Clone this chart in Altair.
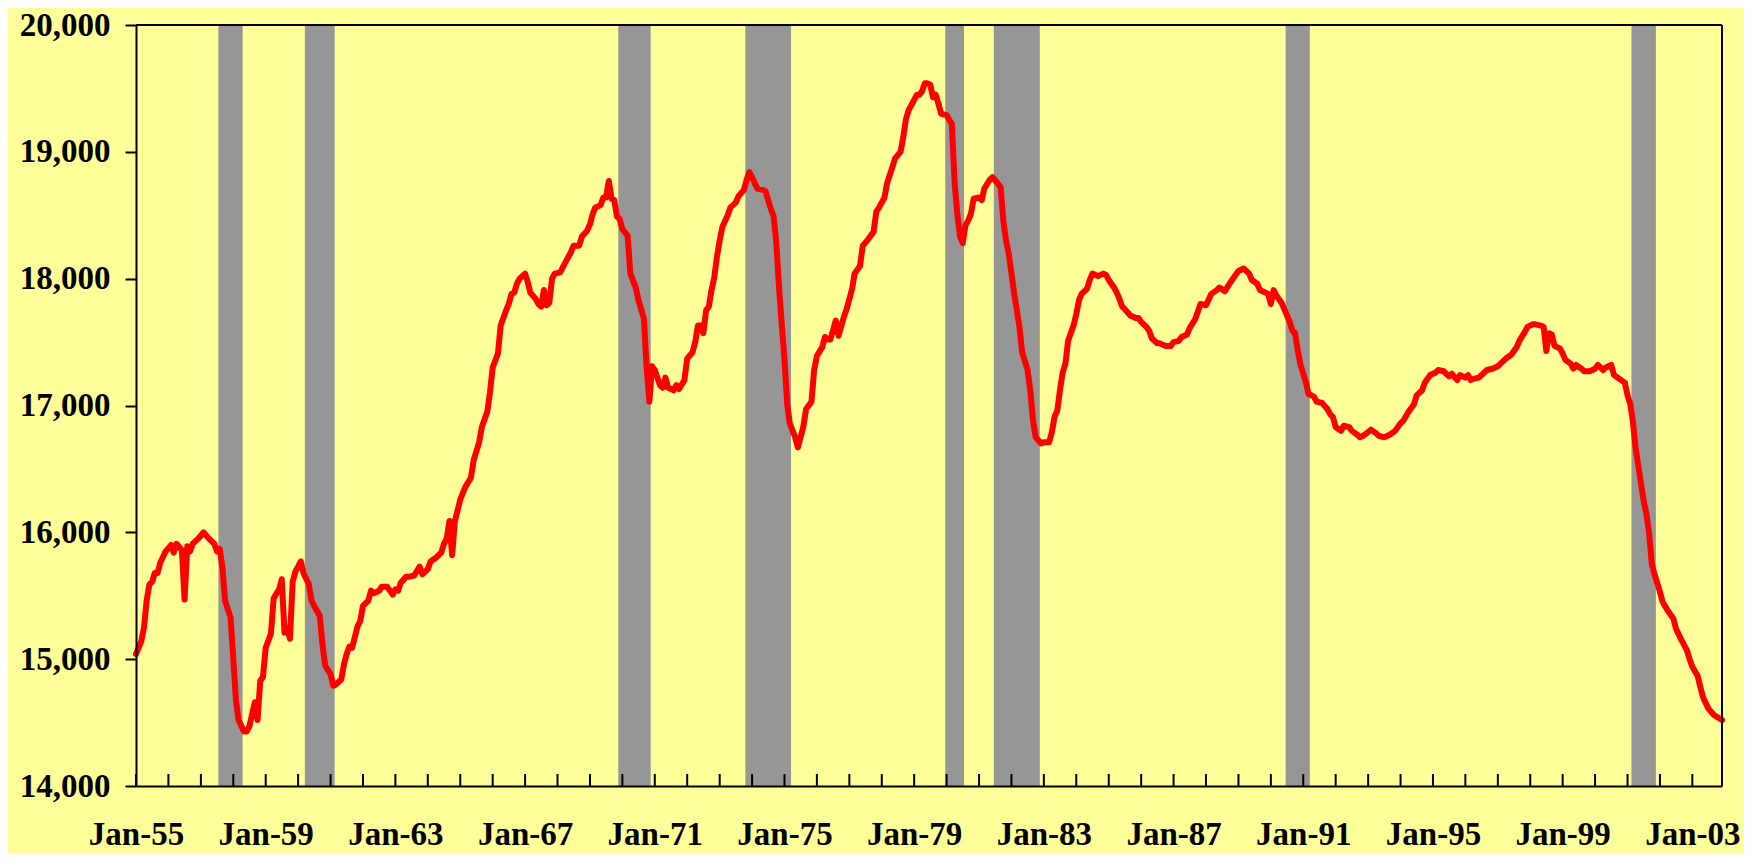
import altair as alt
import pandas as pd

# ---- data (monthly, thousands of jobs) ----
months_since_jan1955 = [
    0, 2, 3, 4, 5, 6, 7, 8, 9, 11, 13, 14, 15, 17, 18, 19, 20, 21, 23, 25, 27, 29, 30, 31, 32, 33, 35, 37, 38, 40,
    41, 42, 44, 45, 46, 47, 48, 50, 51, 53, 54, 55, 56, 57, 58, 59, 61, 62, 64, 65, 67, 68, 69, 70, 72, 73, 74, 76,
    77, 78, 79, 80, 82, 83, 84, 86, 87, 88, 90, 91, 93, 95, 96, 97, 98, 100, 101,
    103, 105, 106, 108, 109, 111, 113, 114, 115, 116, 117, 118, 119, 120, 122, 124, 125, 127, 128, 130, 131, 132,
    134, 135, 137, 138, 139, 140, 141, 142, 144, 145, 146, 148, 149, 150, 151, 152, 153, 154, 155, 157, 158, 159,
    161, 162, 164, 165, 167, 168, 169, 170, 172, 173, 174, 175, 176, 177, 178, 179, 180, 182, 183, 185, 186, 187,
    188, 189, 190, 191, 192, 194, 195, 196, 197,
    199, 200, 201, 203, 204, 206, 207, 208, 209, 210, 211, 212, 213, 214, 215, 216, 217, 219, 220, 222, 223, 225,
    226, 227, 228, 230, 232, 233, 234, 235, 236, 237, 238, 239, 240, 241, 242, 244, 245, 247, 248, 250, 251, 252,
    254, 255, 256, 257, 259, 260, 262, 263, 264, 265, 266, 268, 269, 271, 273, 274, 275, 277, 278, 280, 281, 283,
    284, 285, 286, 288, 289,
    290, 291, 292, 293, 294, 295, 296, 297, 298, 300, 301, 302, 303, 304, 305, 306, 307, 308, 309, 310, 312, 313,
    314, 316, 317, 319, 320, 321, 322, 323, 324, 325, 327, 328, 330, 331, 332, 333, 335, 336, 338, 339, 340, 341,
    342, 343, 344, 345, 347, 348, 349, 350, 352, 353, 354, 356, 358, 359, 360, 362, 363, 364, 365, 366, 368, 370,
    371, 372, 374, 375, 376, 378, 379, 381, 383, 384, 386, 387, 388, 389, 390, 392, 394, 396, 398, 400, 401, 403,
    405, 407, 408, 410, 412, 413, 415, 416, 418, 419, 420, 421, 422, 424, 425, 427, 428, 429, 430, 431, 433, 434,
    436, 437, 439, 441, 442, 443, 444, 446, 447, 449, 450, 452, 453, 454, 456, 457, 459, 460, 462, 464, 466, 468,
    469, 471, 473, 474, 476, 477, 479, 481, 482,
    484, 486, 487, 489, 490, 492, 493, 494, 495, 497, 499, 500, 502, 504, 505, 507, 509, 511, 512, 514, 515, 517,
    518, 520, 521, 522, 523, 524, 525, 527, 528, 529, 531, 532, 533, 535, 536, 538, 540, 541, 543, 544, 546, 547,
    549, 551, 552, 553, 554, 555, 556, 558, 559, 560, 561, 562, 564, 565, 567, 569, 570, 572, 574, 575, 576, 578,
    579, 580, 582, 584, 587,
]

employment = [
    15040, 15140, 15250, 15460, 15590, 15610, 15680, 15680, 15760, 15850, 15900, 15840, 15910, 15860, 15470, 15890,
    15850, 15910, 15950, 16000, 15950, 15910, 15850, 15870, 15720, 15460, 15330, 14670, 14520, 14430,
    14430, 14470, 14660, 14520, 14830, 14860, 15090, 15200, 15480, 15550, 15630, 15210, 15250, 15160, 15610, 15690,
    15770, 15680, 15590, 15460, 15380, 15340, 15120, 14950, 14880, 14790, 14800, 14840,
    14960, 15040, 15100, 15090, 15260, 15300, 15420, 15460, 15540, 15520, 15540, 15570, 15570, 15510, 15550, 15540,
    15600, 15650, 15650,
    15660, 15730, 15670, 15710, 15770, 15800, 15840, 15910, 15950, 16090, 15820, 16090, 16170, 16260, 16360, 16430,
    16570, 16710, 16830, 16950, 17100, 17300,
    17410, 17630, 17750, 17800, 17880, 17890, 17960, 18000, 18040, 17970, 17890, 17840, 17800, 17780, 17910, 17790,
    17810, 18000, 18040, 18050, 18090, 18130,
    18210, 18260, 18260, 18330, 18380, 18430, 18510, 18560, 18580, 18640, 18640, 18770, 18630, 18620, 18490, 18470,
    18390, 18340, 18040, 17930, 17830, 17760,
    17680, 17300, 17030, 17310, 17280, 17160, 17140, 17220, 17140,
    17120, 17160, 17130, 17200, 17370, 17420, 17500, 17630, 17630, 17570, 17750, 17780, 17910, 18010, 18170, 18300,
    18410, 18500, 18560, 18600, 18650, 18700,
    18780, 18840, 18800, 18710, 18700, 18690, 18620, 18550, 18490, 18280, 17930, 17640, 17360, 17010, 16860, 16750,
    16670, 16830, 16970, 17030, 17280, 17390,
    17460, 17540, 17520, 17520, 17670, 17550, 17700, 17760, 17840, 17920, 18040, 18100, 18260, 18310, 18370, 18530,
    18560, 18640, 18750, 18880, 18950, 19000,
    19120, 19260, 19330, 19410, 19450,
    19450, 19480, 19540, 19540, 19530, 19430, 19450, 19380, 19300, 19290, 19250, 19220, 18750, 18510, 18330, 18280,
    18420, 18460, 18510, 18630, 18640, 18620,
    18710, 18780, 18800, 18750, 18720, 18460, 18300, 18200, 18040, 17880, 17620, 17420, 17280, 17120, 16880, 16750,
    16700, 16710, 16710, 16790, 16910, 16960,
    17120, 17260, 17330, 17510, 17630, 17720, 17830, 17880, 17920, 17990, 18040, 18020, 18040, 18030, 17990, 17930,
    17890, 17840, 17780, 17760, 17710, 17690,
    17690, 17660, 17620, 17590, 17530, 17490, 17490, 17470, 17470, 17500, 17510, 17540, 17550, 17560, 17610, 17680,
    17800, 17790, 17880, 17910, 17930, 17900,
    17970, 18030, 18060, 18080, 18040, 17990, 17960, 17910, 17890, 17880, 17800, 17910, 17870, 17810, 17760, 17660,
    17590, 17570, 17430, 17320, 17180, 17090,
    17070, 17030, 17020, 16970, 16930, 16910, 16830, 16800, 16840, 16830, 16800, 16770, 16750, 16760, 16790, 16810,
    16780, 16760, 16750, 16770, 16800, 16860,
    16880, 16950, 17010, 17080, 17120, 17180, 17240, 17260, 17280,
    17270, 17230, 17250, 17200, 17240, 17220, 17240, 17200, 17210, 17220, 17260, 17280, 17290, 17310, 17330, 17370,
    17400, 17460, 17510, 17580, 17620, 17640,
    17640, 17630, 17620, 17430, 17570, 17560, 17470, 17450, 17410, 17360, 17330, 17290, 17320, 17290, 17270, 17270,
    17290, 17320, 17280, 17300, 17320, 17240,
    17210, 17180, 17080, 17010, 16880, 16670, 16530, 16250, 16150, 15990, 15750, 15670, 15530, 15450, 15380, 15320,
    15240, 15150, 15070, 15000, 14940, 14870,
    14780, 14700, 14610, 14560, 14520,
]

# NBER recessions (peak month, trough month)
recession_peaks = ["1957-08", "1960-04", "1969-12", "1973-11", "1980-01", "1981-07", "1990-07", "2001-03"]
recession_troughs = ["1958-04", "1961-02", "1970-11", "1975-03", "1980-07", "1982-11", "1991-03", "2001-11"]

tick_years = list(range(1955, 2004))
label_years = [1955, 1959, 1963, 1967, 1971, 1975, 1979, 1983, 1987, 1991, 1995, 1999, 2003]
y_ticks = [14000, 15000, 16000, 17000, 18000, 19000, 20000]

# ---- tables ----
base = pd.Timestamp("1955-01-01")
line_df = pd.DataFrame({
    "date": [(base + pd.DateOffset(months=int(m))).strftime("%Y-%m-%d") for m in months_since_jan1955],
    "jobs": employment,
})
half = pd.Timedelta(days=15)
rec_df = pd.DataFrame({
    "start": [(pd.Timestamp(p + "-01") - half).strftime("%Y-%m-%d") for p in recession_peaks],
    "end": [(pd.Timestamp(t + "-01") + half).strftime("%Y-%m-%d") for t in recession_troughs],
})
tick_df = pd.DataFrame({"date": [f"{y}-01-01" for y in tick_years]})

W, H = 1586, 761
FONT = "Liberation Serif"

x_scale = alt.Scale(
    type="utc",
    domain=[alt.DateTime(year=1955, month=1, date=1, utc=True),
            alt.DateTime(year=2003, month=12, date=1, utc=True)],
)
x_axis = alt.Axis(
    values=[alt.DateTime(year=y, month=1, date=1, utc=True) for y in label_years],
    format="%b-%y", title=None, grid=False, ticks=False,
    domain=True, domainColor="black", domainWidth=2,
    labelFont=FONT, labelFontWeight="bold", labelFontSize=33, labelColor="black",
    labelPadding=32, labelFlush=False, labelOverlap=False, zindex=1,
)
y_scale = alt.Scale(domain=[14000, 20000], nice=False, zero=False)
y_axis = alt.Axis(
    values=y_ticks, format=",d", title=None, grid=False,
    tickSize=11, tickWidth=2, tickColor="black",
    domain=True, domainColor="black", domainWidth=2,
    labelFont=FONT, labelFontWeight="bold", labelFontSize=33, labelColor="black",
    labelPadding=15, zindex=1,
)

def X(field):
    return alt.X(field, type="temporal", scale=x_scale, axis=x_axis)

def Y(field=None, datum=None):
    if datum is not None:
        return alt.Y(datum=datum, type="quantitative", scale=y_scale, axis=y_axis)
    return alt.Y(field, type="quantitative", scale=y_scale, axis=y_axis)

bars = alt.Chart(rec_df).mark_rect(color="#969696").encode(
    x=X("start"), x2="end", y=Y(datum=14000), y2=alt.Y2(datum=20000)
)
ticks = alt.Chart(tick_df).mark_rule(color="black", strokeWidth=2).encode(
    x=X("date"), y=alt.value(H - 12), y2=alt.value(H)
)
line = alt.Chart(line_df).mark_line(
    color="#FF0000", strokeWidth=6, strokeJoin="round", strokeCap="round"
).encode(x=X("date"), y=Y("jobs"))

frame_df = pd.DataFrame({"k": [0]})
top_border = alt.Chart(frame_df).mark_rule(color="black", strokeWidth=2).encode(
    x=alt.value(0), x2=alt.value(W), y=alt.value(0)
)
right_border = alt.Chart(frame_df).mark_rule(color="black", strokeWidth=2).encode(
    x=alt.value(W), y=alt.value(0), y2=alt.value(H)
)

chart = alt.layer(bars, ticks, line, top_border, right_border).properties(
    width=W, height=H,
    autosize=alt.AutoSizeParams(type="none"),
    padding={"left": 128, "top": 17, "right": 22, "bottom": 67},
    background="#FFFF99",
).configure_view(stroke="transparent")

chart.save("out.html", embed_options={"renderer": "svg", "actions": False})
